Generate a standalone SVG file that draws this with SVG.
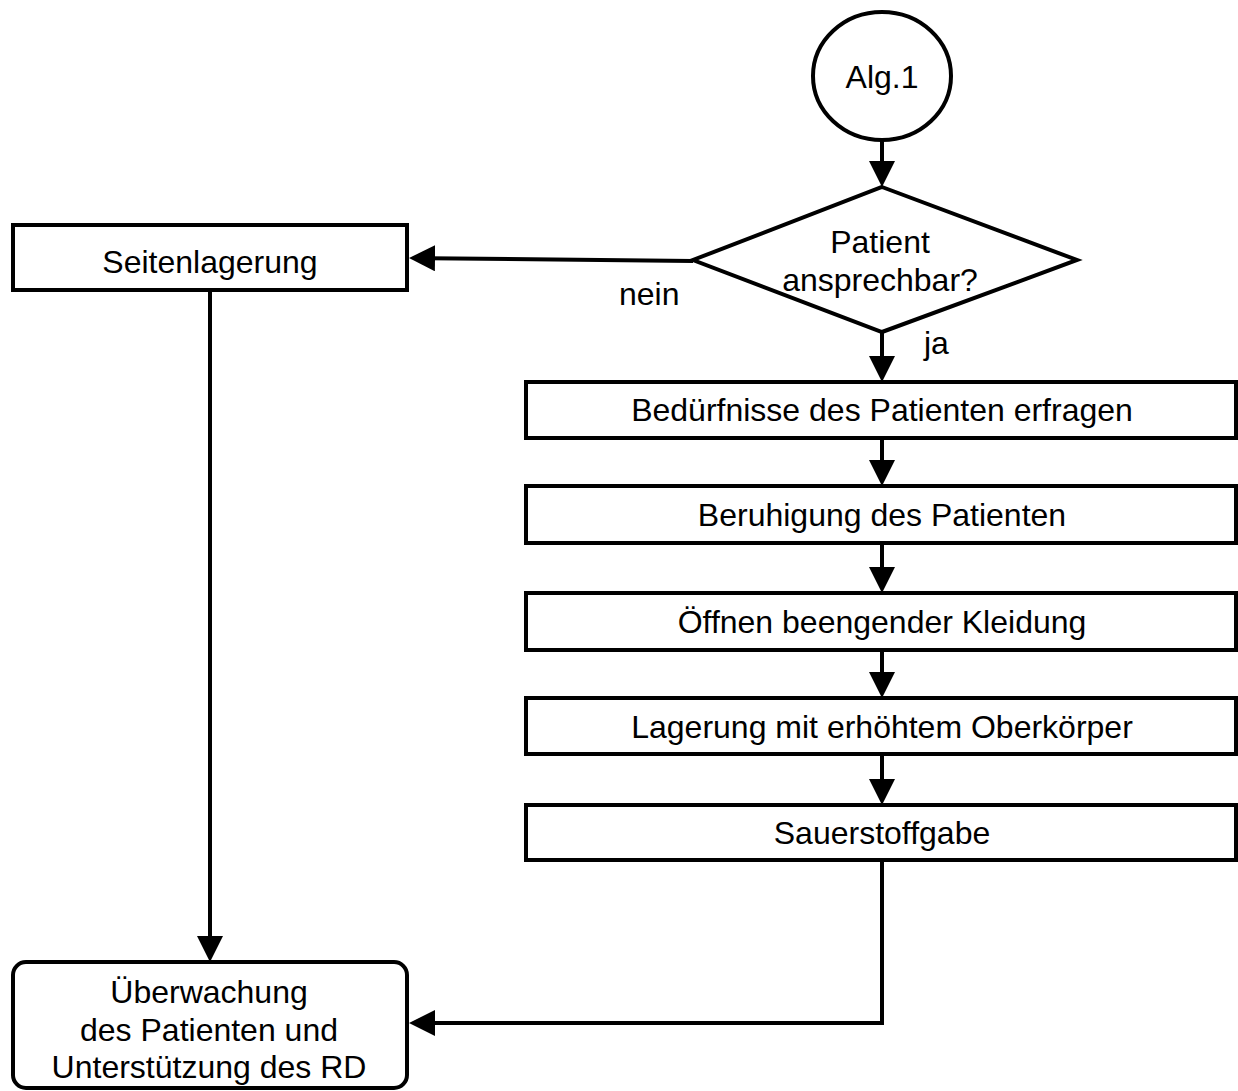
<svg xmlns="http://www.w3.org/2000/svg" width="1238" height="1091" viewBox="0 0 1238 1091">
  <style>
    .shape { fill: #ffffff; stroke: #000000; stroke-width: 4; }
    .conn { fill: none; stroke: #000000; stroke-width: 4; }
    .lbl { font-family: "Liberation Sans", Arial, sans-serif; font-size: 32px; fill: #000000; text-anchor: middle; }
    .tag { font-family: "Liberation Sans", Arial, sans-serif; font-size: 32px; fill: #000000; }
  </style>
  <defs>
    <marker id="arrow" markerUnits="userSpaceOnUse" markerWidth="26" markerHeight="26" refX="6" refY="13" orient="auto" viewBox="0 0 26 26">
      <path d="M0,0 L26,13 L0,26 Z" fill="#000000"/>
    </marker>
  </defs>
  <rect width="1238" height="1091" fill="#ffffff"/>

  <g id="connectors">
    <line class="conn" x1="882" y1="140" x2="882" y2="167" marker-end="url(#arrow)"/>
    <line class="conn" x1="693" y1="261" x2="429" y2="258.2" marker-end="url(#arrow)"/>
    <line class="conn" x1="882" y1="332" x2="882" y2="362" marker-end="url(#arrow)"/>
    <line class="conn" x1="882" y1="438" x2="882" y2="466" marker-end="url(#arrow)"/>
    <line class="conn" x1="882" y1="543" x2="882" y2="573" marker-end="url(#arrow)"/>
    <line class="conn" x1="882" y1="650" x2="882" y2="678" marker-end="url(#arrow)"/>
    <line class="conn" x1="882" y1="754" x2="882" y2="785" marker-end="url(#arrow)"/>
    <line class="conn" x1="210" y1="290" x2="210" y2="942" marker-end="url(#arrow)"/>
    <polyline class="conn" points="882,860 882,1023 429,1023" marker-end="url(#arrow)"/>
  </g>

  <g id="start">
    <ellipse class="shape" cx="882" cy="76" rx="69" ry="64"/>
    <text class="lbl" x="882" y="88">Alg.1</text>
  </g>

  <g id="decision">
    <polygon class="shape" points="882,187 1077,260 882,332 693,260"/>
    <text class="lbl" x="880" y="253">Patient</text>
    <text class="lbl" x="880" y="291">ansprechbar?</text>
  </g>

  <g id="label-nein">
    <text class="tag" x="619" y="305">nein</text>
  </g>
  <g id="label-ja">
    <text class="tag" x="924" y="354">ja</text>
  </g>

  <g id="seitenlagerung">
    <rect class="shape" x="13" y="225" width="394" height="65"/>
    <text class="lbl" x="210" y="273">Seitenlagerung</text>
  </g>

  <g id="beduerfnisse">
    <rect class="shape" x="526" y="382" width="710" height="56"/>
    <text class="lbl" x="882" y="421">Bedürfnisse des Patienten erfragen</text>
  </g>

  <g id="beruhigung">
    <rect class="shape" x="526" y="486" width="710" height="57"/>
    <text class="lbl" x="882" y="526">Beruhigung des Patienten</text>
  </g>

  <g id="kleidung">
    <rect class="shape" x="526" y="593" width="710" height="57"/>
    <text class="lbl" x="882" y="633">Öffnen beengender Kleidung</text>
  </g>

  <g id="lagerung">
    <rect class="shape" x="526" y="698" width="710" height="56"/>
    <text class="lbl" x="882" y="738">Lagerung mit erhöhtem Oberkörper</text>
  </g>

  <g id="sauerstoff">
    <rect class="shape" x="526" y="805" width="710" height="55"/>
    <text class="lbl" x="882" y="844">Sauerstoffgabe</text>
  </g>

  <g id="ueberwachung">
    <rect class="shape" x="13" y="962" width="394" height="126" rx="13" ry="13"/>
    <text class="lbl" x="209" y="1003">Überwachung</text>
    <text class="lbl" x="209" y="1041">des Patienten und</text>
    <text class="lbl" x="209" y="1078">Unterstützung des RD</text>
  </g>
</svg>
